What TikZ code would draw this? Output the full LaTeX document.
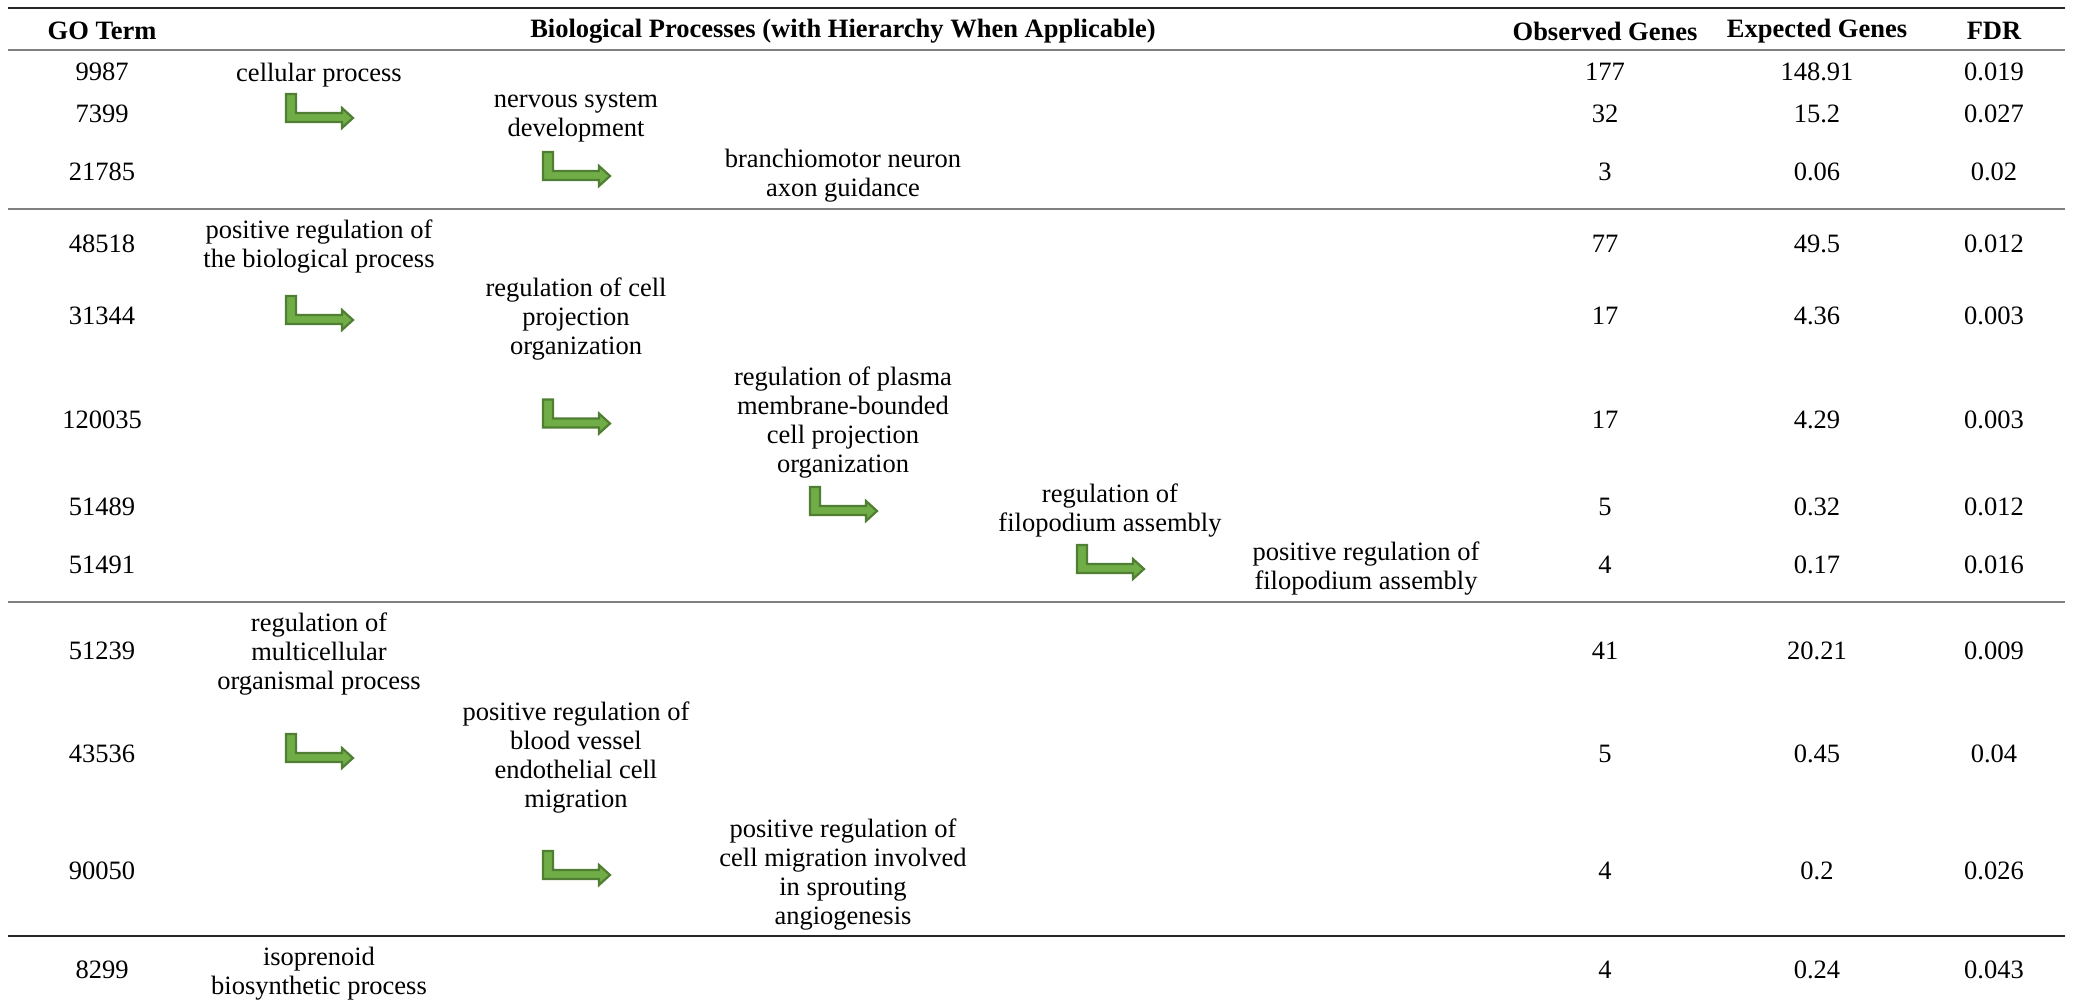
\documentclass[tikz,border=0pt]{standalone}
\usepackage{fontspec}
\setmainfont{Liberation Serif}
\usetikzlibrary{calc}
\definecolor{arrfill}{HTML}{70AD47}
\definecolor{arrdraw}{HTML}{507E32}
\definecolor{rulegray}{HTML}{7F7F7F}
\tikzset{
  txt/.style={font=\fontsize{26.5}{29}\selectfont, align=center, inner sep=0pt},
  biotxt/.style={txt, yshift=-3.5pt},
  hdr/.style={font=\fontsize{26.5}{29}\selectfont\bfseries, inner sep=0pt, yshift=-2pt},
  harrow/.style={fill=arrfill, draw=arrdraw, line width=2.2pt, line join=miter},
  toprule/.style={line width=2.5pt, black!85},
  midrule/.style={line width=1.6pt, rulegray},
  botrule/.style={line width=1.3pt, black!85},
}
% id, y, GO, level-x, process text, observed, expected, FDR
\newcommand\gorow[8]{%
  \node[txt] (r#1) at (102,#2) {#3};
  \node[biotxt] (b#1) at (#4,#2) {#5};
  \node[txt] (o#1) at (1605,#2) {#6};
  \node[txt] (e#1) at (1817,#2) {#7};
  \node[txt] (f#1) at (1994,#2) {#8};
}
% parent process node, child row node
\newcommand\bentarr[2]{%
  \draw[harrow, shift={(#1 |- #2)}] (-33,-20) -- (-23,-20) -- (-23,-1) -- (23,-1)
    -- (23,-6) -- (34,4) -- (23,14) -- (23,8) -- (-33,8) -- cycle;
}
\begin{document}
\begin{tikzpicture}[x=1pt,y=-1pt]
\useasboundingbox (0,0) rectangle (2075,1005);
% header
\node[hdr] (hgo) at (102,29) {GO Term};
\node[hdr] (hbio) at (843,29) {Biological Processes (with Hierarchy When Applicable)};
\node[hdr] (hobs) at (1605,29) {Observed Genes};
\node[hdr] (hexp) at (1817,29) {Expected Genes};
\node[hdr] (hfdr) at (1994,29) {FDR};
% rules
\draw[toprule] (8,8) -- (2065,8);
\draw[midrule] (8,50) -- (2065,50);
\draw[midrule] (8,209) -- (2065,209);
\draw[midrule] (8,602) -- (2065,602);
\draw[botrule] (8,936) -- (2065,936);
% rows
\gorow{1}{71.5}{9987}{319}{cellular process}{177}{148.91}{0.019}
\gorow{2}{114}{7399}{576}{nervous system\\development}{32}{15.2}{0.027}
\gorow{3}{172}{21785}{843}{branchiomotor neuron\\axon guidance}{3}{0.06}{0.02}
\gorow{4}{243.5}{48518}{319}{positive regulation of\\the biological process}{77}{49.5}{0.012}
\gorow{5}{316}{31344}{576}{regulation of cell\\projection\\organization}{17}{4.36}{0.003}
\gorow{6}{419.5}{120035}{843}{regulation of plasma\\membrane-bounded\\cell projection\\organization}{17}{4.29}{0.003}
\gorow{7}{507}{51489}{1110}{regulation of\\filopodium assembly}{5}{0.32}{0.012}
\gorow{8}{565}{51491}{1366}{positive regulation of\\filopodium assembly}{4}{0.17}{0.016}
\gorow{9}{651}{51239}{319}{regulation of\\multicellular\\organismal process}{41}{20.21}{0.009}
\gorow{10}{754}{43536}{576}{positive regulation of\\blood vessel\\endothelial cell\\migration}{5}{0.45}{0.04}
\gorow{11}{871}{90050}{843}{positive regulation of\\cell migration involved\\in sprouting\\angiogenesis}{4}{0.2}{0.026}
\gorow{12}{970}{8299}{319}{isoprenoid\\biosynthetic process}{4}{0.24}{0.043}
% hierarchy arrows
\bentarr{b1}{r2}
\bentarr{b2}{r3}
\bentarr{b4}{r5}
\bentarr{b5}{r6}
\bentarr{b6}{r7}
\bentarr{b7}{r8}
\bentarr{b9}{r10}
\bentarr{b10}{r11}
\end{tikzpicture}
\end{document}
